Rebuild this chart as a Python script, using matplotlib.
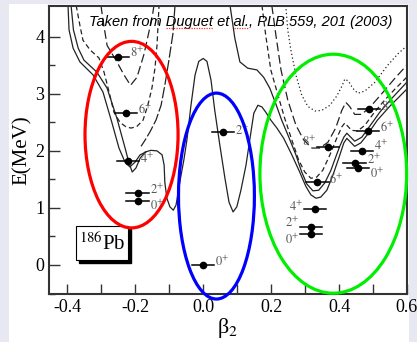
import matplotlib
matplotlib.use('Agg')
import matplotlib.pyplot as plt
from matplotlib.lines import Line2D
from matplotlib.patches import Ellipse, Rectangle
from matplotlib.transforms import IdentityTransform

plt.rcParams['mathtext.fontset'] = 'stix'
plt.rcParams['font.family'] = ['Liberation Serif', 'DejaVu Serif']

# energy curves (beta_2, E in MeV)
solid_a_beta = [-0.389, -0.382, -0.368, -0.351, -0.313, -0.283, -0.254, -0.230, -0.219, -0.209,
                -0.198, -0.186, -0.171, -0.154, -0.136, -0.121, -0.115, -0.113, -0.107, -0.098,
                -0.088, -0.080, -0.069, -0.057, -0.048, -0.036, -0.024, -0.013, 0.0, 0.011,
                0.023, 0.034, 0.049, 0.064, 0.076, 0.088, 0.099, 0.111, 0.126, 0.137,
                0.149, 0.161, 0.173, 0.184, 0.199, 0.217, 0.237, 0.261, 0.284, 0.302,
                0.317, 0.332, 0.346, 0.364, 0.381, 0.399, 0.414, 0.423, 0.431, 0.446,
                0.464, 0.484, 0.513, 0.549, 0.599]
solid_a_e = [4.55, 4.12, 3.80, 3.59, 3.38, 3.10, 2.57, 2.05, 1.80, 1.63,
             1.70, 1.87, 1.98, 2.01, 2.00, 1.93, 1.75, 1.45, 1.17, 1.02,
             0.96, 1.05, 1.45, 1.84, 2.19, 2.80, 3.33, 3.57, 3.62, 3.57,
             3.24, 2.71, 2.10, 1.52, 1.10, 0.93, 1.02, 1.31, 1.75, 2.19,
             2.66, 2.80, 2.77, 2.68, 2.54, 2.40, 2.22, 1.93, 1.63, 1.38,
             1.23, 1.17, 1.19, 1.31, 1.56, 1.87, 2.14, 2.22, 2.17, 2.08,
             2.14, 2.29, 2.54, 2.78, 3.08]

solid_b_beta = [-0.398, -0.395, -0.383, -0.363, -0.324, -0.295, -0.269, -0.248, -0.230, -0.216,
                -0.201, -0.186, -0.169]
solid_b_e = [4.55, 4.12, 3.80, 3.56, 3.33, 3.03, 2.50, 2.05, 1.80, 1.72,
             1.80, 1.93, 1.98]

solid_c_beta = [0.079, 0.093, 0.108, 0.131, 0.158, 0.178, 0.196, 0.214, 0.231, 0.252,
                0.273, 0.290, 0.305, 0.323, 0.340, 0.358, 0.376, 0.390, 0.402, 0.414,
                0.423, 0.431, 0.446, 0.467, 0.490, 0.520, 0.555, 0.599]
solid_c_e = [4.55, 3.98, 3.56, 3.45, 3.42, 3.29, 3.10, 2.82, 2.54, 2.24,
             1.93, 1.63, 1.42, 1.30, 1.31, 1.44, 1.66, 1.89, 2.08, 2.24,
             2.31, 2.26, 2.17, 2.24, 2.43, 2.68, 2.92, 3.20]

dash_left_beta = [-0.374, -0.363, -0.354, -0.333, -0.307, -0.292, -0.277, -0.263, -0.245, -0.227,
                  -0.212, -0.195, -0.177, -0.163, -0.151, -0.142, -0.136, -0.133, -0.130]
dash_left_e = [4.55, 4.20, 3.94, 3.77, 3.63, 3.38, 3.03, 2.68, 2.50, 2.42,
               2.40, 2.43, 2.54, 2.80, 3.10, 3.45, 3.85, 4.20, 4.55]

long_left_beta = [-0.301, -0.295, -0.283, -0.254, -0.233, -0.214, -0.195, -0.175, -0.160, -0.148,
                  -0.145]
long_left_e = [4.55, 4.29, 3.85, 3.56, 3.33, 3.15, 3.29, 3.68, 4.08, 4.43,
               4.55]

long_mid_beta = [-0.083, -0.089, -0.101, -0.113, -0.124, -0.139, -0.157, -0.171, -0.183]
long_mid_e = [4.55, 4.06, 3.59, 3.15, 2.80, 2.54, 2.33, 2.19, 2.08]

dash_right_beta = [0.173, 0.184, 0.199, 0.220, 0.240, 0.261, 0.281, 0.299, 0.317, 0.334,
                   0.352, 0.373, 0.393, 0.408, 0.417, 0.426, 0.437, 0.455, 0.476, 0.502,
                   0.534, 0.564, 0.599]
dash_right_e = [4.55, 4.03, 3.42, 2.98, 2.57, 2.19, 1.84, 1.63, 1.52, 1.54,
                1.66, 1.93, 2.22, 2.42, 2.49, 2.43, 2.36, 2.35, 2.45, 2.66,
                2.89, 3.08, 3.29]

long_right_beta = [0.202, 0.214, 0.229, 0.249, 0.273, 0.296, 0.320, 0.343, 0.367, 0.390,
                   0.408, 0.420, 0.431, 0.446, 0.467, 0.496, 0.534, 0.564, 0.599]
long_right_e = [4.55, 4.03, 3.42, 2.89, 2.45, 2.19, 2.05, 2.05, 2.15, 2.40,
                2.71, 2.85, 2.78, 2.64, 2.64, 2.80, 3.06, 3.27, 3.50]

dot_right_beta = [0.243, 0.249, 0.258, 0.273, 0.290, 0.308, 0.329, 0.349, 0.373, 0.393,
                  0.408, 0.417, 0.428, 0.440, 0.455, 0.476, 0.505, 0.543, 0.573, 0.599]
dot_right_e = [4.55, 4.12, 3.77, 3.33, 2.98, 2.78, 2.70, 2.71, 2.80, 2.96,
               3.13, 3.26, 3.22, 3.10, 3.01, 3.05, 3.20, 3.50, 3.70, 3.84]

# calculated levels
level_spin = ['0', '2', '4', '6', '8',
              '0', '2',
              '0', '2', '4', '6', '8',
              '0', '2', '4', '6', '8']
level_beta = [-0.193, -0.193, -0.221, -0.228, -0.251,
              0.0, 0.059,
              0.317, 0.317, 0.329, 0.336, 0.368,
              0.456, 0.446, 0.468, 0.485, 0.488]
level_e = [1.12, 1.256, 1.82, 2.67, 3.65,
           0.0, 2.33,
           0.54, 0.66, 0.975, 1.46, 2.06,
           1.70, 1.78, 2.00, 2.35, 2.73]

xtick_vals = [-0.4, -0.2, 0.0, 0.2, 0.4, 0.6]
xtick_labels = ['-0.4', '-0.2', '0.0', '0.2', '0.4', '0.6']
ytick_vals = [0, 1, 2, 3, 4]

title_text = 'Taken from Duguet et al., PLB 559, 201 (2003)'

# label placement: side of the bar and vertical nudge in points
label_side = ['r', 'r', 'r', 'r', 'r',
              'r', 'r',
              'l', 'l', 'l', 'r', 'l',
              'r', 'r', 'r', 'r', 'r']
label_dy = [-3.5, 2.5, 1.5, 2, 3,
            2, 1,
            -4, 3, 2, 1.5, 4,
            -4, 2.5, 3.5, 2, 2]


def text_width(renderer, s, **kw):
    t = fig.text(0, 0, s, **kw)
    w = t.get_window_extent(renderer).width
    t.remove()
    return w


fig = plt.figure(figsize=(4.17, 3.42), dpi=100)
fig.patch.set_facecolor('#e8e8f2')
fig.patches.append(Rectangle((9 / 417, 0), 400 / 417, 338 / 342, transform=fig.transFigure,
                             facecolor='white', edgecolor='none', zorder=-10))
ax = fig.add_axes([49 / 417, 48.5 / 342, 358 / 417, 287.5 / 342])

line_kw = dict(color='#222222', lw=0.9)
ax.plot(solid_a_beta, solid_a_e, **line_kw)
ax.plot(solid_b_beta, solid_b_e, **line_kw)
ax.plot(solid_c_beta, solid_c_e, **line_kw)
ax.plot(dash_left_beta, dash_left_e, dashes=(4, 2.5), **line_kw)
ax.plot(long_left_beta, long_left_e, dashes=(7, 3), **line_kw)
ax.plot(long_mid_beta, long_mid_e, dashes=(9, 2), **line_kw)
ax.plot(dash_right_beta, dash_right_e, dashes=(4, 2.5), **line_kw)
ax.plot(long_right_beta, long_right_e, dashes=(7, 3), **line_kw)
ax.plot(dot_right_beta, dot_right_e, dashes=(1, 2), **line_kw)

half = 0.033
for s, b, e, side, dy in zip(level_spin, level_beta, level_e, label_side, label_dy):
    ax.plot([b - half, b + half], [e, e], color='black', lw=1.1, zorder=5)
    ax.plot(b, e, 'o', color='black', ms=4.5, zorder=6)
    if side == 'r':
        ax.annotate('$%s^{+}$' % s, (b + half, e), xytext=(0.5, dy), textcoords='offset points',
                    ha='left', va='center', fontsize=9, color='#555555')
    else:
        ax.annotate('$%s^{+}$' % s, (b - half, e), xytext=(-0.5, dy), textcoords='offset points',
                    ha='right', va='center', fontsize=9, color='#555555')

# highlight ellipses
ax.add_patch(Ellipse((-0.211, 2.285), 0.274, 3.27, fill=False, edgecolor='#ff0000', lw=2.3,
                     zorder=7, clip_on=False))
ax.add_patch(Ellipse((0.039, 1.208), 0.2235, 3.61, fill=False, edgecolor='#0000ff', lw=2.3,
                     zorder=7, clip_on=False))
ax.add_patch(Ellipse((0.383, 1.60), 0.432, 4.19, fill=False, edgecolor='#00ee00', lw=2.3,
                     zorder=7, clip_on=False))

# nucleus box with shadow
ax.add_patch(Rectangle((0.0838, 0.1061), 0.1453, 0.1183, transform=ax.transAxes,
                       facecolor='black', edgecolor='black', zorder=3))
ax.add_patch(Rectangle((0.0754, 0.1165), 0.1453, 0.1183, transform=ax.transAxes,
                       facecolor='white', edgecolor='black', lw=0.8, zorder=4))
ax.text(0.148, 0.174, '$^{186}$Pb', transform=ax.transAxes, ha='center', va='center',
        fontsize=15, zorder=5)

title_kw = dict(fontsize=10.5, style='italic', family='Liberation Sans')
title = ax.text(0.536, 0.945, title_text, transform=ax.transAxes,
                ha='center', va='center', **title_kw)

ax.set_xlim(-0.454, 0.6)
ax.set_ylim(-0.5, 4.54)
ax.set_xticks(xtick_vals)
ax.set_xticklabels(xtick_labels)
ax.set_xticks([-0.3, -0.1, 0.1, 0.3, 0.5], minor=True)
ax.set_yticks(ytick_vals)
ax.set_yticks([-0.5, 0.5, 1.5, 2.5, 3.5], minor=True)
ax.tick_params(which='both', direction='in', top=False, right=False, labelsize=13,
               color='#333333', width=1.0)
ax.tick_params(axis='x', which='both', length=7.5, pad=4)
ax.tick_params(axis='y', which='major', length=8)
ax.tick_params(axis='y', which='minor', length=4)
for sp in ax.spines.values():
    sp.set_linewidth(1.5)
    sp.set_color('#333333')

ax.set_xlabel('β$_2$', fontsize=16, labelpad=0)
ax.set_ylabel('E(MeV)', fontsize=15, labelpad=2)

# red spell-check underline below "Duguet" and "al."
fig.canvas.draw()
r = fig.canvas.get_renderer()
bb = title.get_window_extent(r)
for prefix, word in [('Taken from Duguet', 'Duguet'), ('Taken from Duguet et al.', 'al.')]:
    x1 = bb.x0 + text_width(r, prefix, **title_kw)
    x0 = x1 - text_width(r, word, **title_kw)
    fig.add_artist(Line2D([x0, x1], [bb.y0 + 1, bb.y0 + 1], transform=IdentityTransform(),
                          color='#ff3030', lw=0.9, dashes=(1, 1)))

fig.savefig('out.png', dpi=100, facecolor=fig.get_facecolor())
